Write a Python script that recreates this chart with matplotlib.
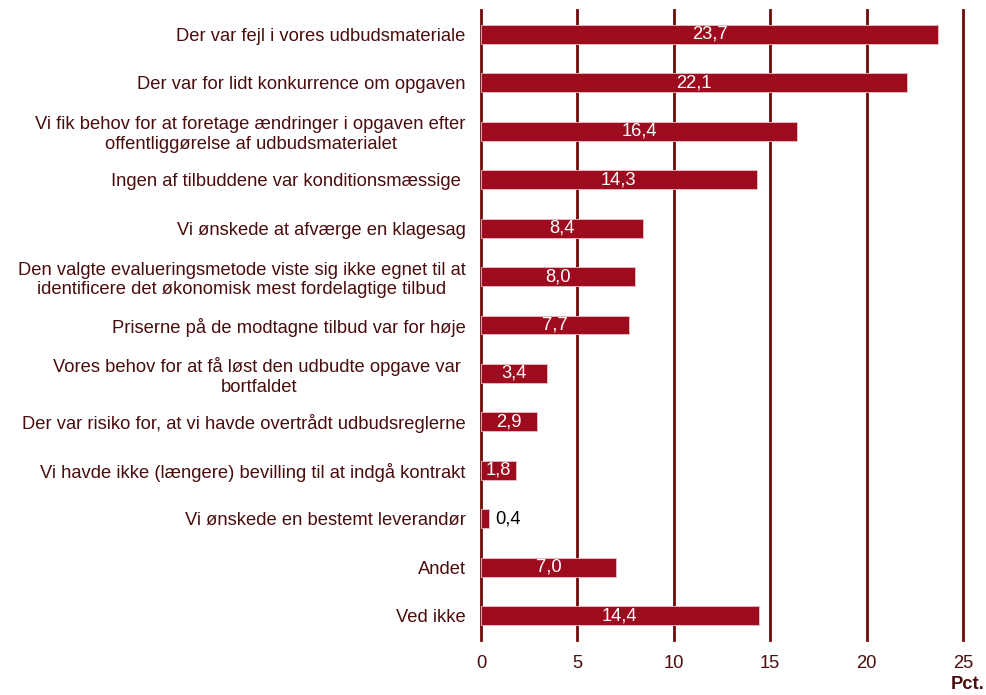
import matplotlib
matplotlib.use("Agg")
import matplotlib.pyplot as plt

categories = [
    "Der var fejl i vores udbudsmateriale",
    "Der var for lidt konkurrence om opgaven",
    "Vi fik behov for at foretage ændringer i opgaven efter\noffentliggørelse af udbudsmaterialet",
    "Ingen af tilbuddene var konditionsmæssige ",
    "Vi ønskede at afværge en klagesag",
    "Den valgte evalueringsmetode viste sig ikke egnet til at\nidentificere det økonomisk mest fordelagtige tilbud",
    "Priserne på de modtagne tilbud var for høje",
    "Vores behov for at få løst den udbudte opgave var \nbortfaldet",
    "Der var risiko for, at vi havde overtrådt udbudsreglerne",
    "Vi havde ikke (længere) bevilling til at indgå kontrakt",
    "Vi ønskede en bestemt leverandør",
    "Andet",
    "Ved ikke",
]
values = [23.7, 22.1, 16.4, 14.3, 8.4, 8.0, 7.7, 3.4, 2.9, 1.8, 0.4, 7.0, 14.4]
xticks = [0, 5, 10, 15, 20, 25]

plt.rcParams['font.family'] = ['Liberation Sans', 'DejaVu Sans']
bar_col = '#9e0b1e'
grid_col = '#6e0a0a'
text_col = '#4a0d0d'
fs = 13.2

fig = plt.figure(figsize=(9.86, 6.95), dpi=100)
ax = fig.add_axes([0.4878, 0.0791, 0.4889, 0.9065])

ypos = list(range(len(categories)))
ax.barh(ypos, values, height=0.39, color=bar_col, edgecolor='#e8c0c4', linewidth=0.6, zorder=3)
ax.set_ylim(len(categories) - 0.5, -0.5)
ax.set_xlim(0, 25)

for x in xticks:
    ax.axvline(x, color=grid_col, lw=2, zorder=2, clip_on=False)

for y, v in zip(ypos, values):
    lab = f"{v:.1f}".replace('.', ',')
    if v < 1:
        ax.text(v + 0.35, y, lab, ha='left', va='center', fontsize=fs, color='black', zorder=4)
    else:
        ax.text(v / 2, y, lab, ha='center', va='center', fontsize=fs, color='white', zorder=4)

ax.set_yticks(ypos)
ax.set_yticklabels(categories, fontsize=fs, color=text_col, multialignment='center')
ax.set_xticks(xticks)
ax.set_xticklabels([str(t) for t in xticks], fontsize=fs, color=text_col)
ax.tick_params(axis='both', length=0)
ax.tick_params(axis='y', pad=11)
ax.tick_params(axis='x', pad=11)
for s in ax.spines.values():
    s.set_visible(False)

fig.text(0.998, 0.003, "Pct.", ha='right', va='bottom', fontsize=fs, fontweight='bold', color=text_col)

fig.savefig("out.png", dpi=100)
